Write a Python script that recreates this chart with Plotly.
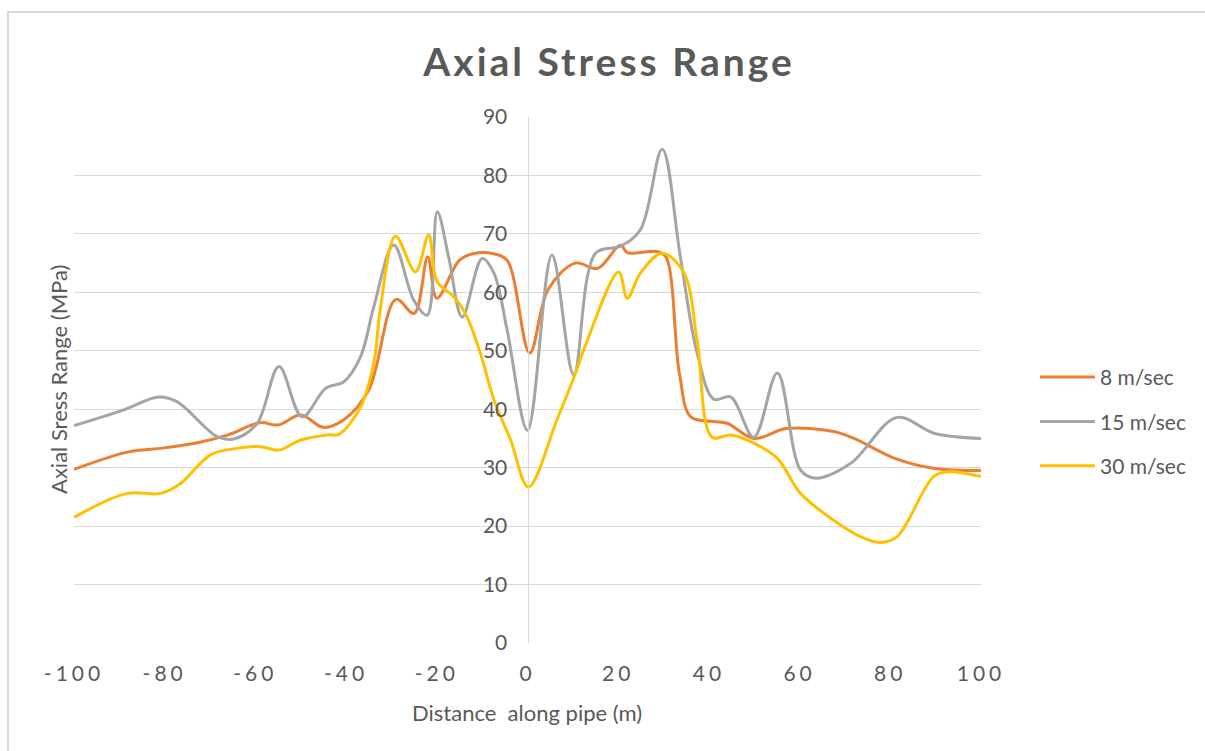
import plotly.graph_objects as go

# ---- data ----
x_8 = [-100, -88, -81, -72, -66, -59, -55, -50, -45, -40.5, -35, -29, -25, -22, -20, -15, -12, -7.5, -4.5,
       0.5, 4.5, 10.5, 15.5, 20.5, 22, 28.5, 30.5, 33.5, 36, 41, 44, 50, 57, 67.5, 72, 81, 89.5, 100]
y_8 = [29.7, 32.7, 33.3, 34.4, 35.6, 37.7, 37.3, 39.0, 36.9, 38.2, 43.3, 58.8, 56.4, 66.1, 59.0, 65.5, 66.6, 66.6, 65.5,
       49.6, 60.4, 65.0, 64.1, 68.1, 66.8, 67.0, 66.1, 46.1, 38.7, 37.9, 37.6, 35.0, 36.7, 36.2, 35.0, 31.6, 29.9, 29.5]

x_15 = [-100, -89, -81.3, -77.3, -68.4, -64.8, -59.6, -54.8, -49.7, -44.5, -40.5, -36.8, -33.9, -29.5, -25.1, -22.1,
        -19.9, -17.4, -14.4, -10, -7.4, -4.5, 0, 5.4, 10.2, 15, 20.5, 24.9, 29.7, 33.7, 37.4, 41.1, 44.8, 49.9,
        55.1, 60.2, 63.5, 71.2, 81.5, 89.6, 100]
y_15 = [37.2, 39.9, 42.1, 41.3, 35.3, 34.9, 37.6, 47.3, 38.7, 43.6, 44.7, 49.0, 57.5, 68.1, 58.7, 56.1,
        73.8, 66.1, 55.8, 65.8, 63.3, 53.6, 36.4, 66.4, 45.9, 66.7, 67.9, 70.7, 84.5, 66.1, 49.6, 41.7, 42.1, 35.2,
        46.2, 29.6, 28.2, 30.7, 38.6, 35.9, 35.0]

x_30 = [-100, -88.3, -80.9, -76.5, -69.9, -64, -58.9, -54.8, -50.1, -44.2, -41.6, -36.8, -33.9, -32.4, -29.1, -24.7,
        -21.8, -19.9, -16.3, -13.7, -10.4, -7.4, -3.7, 0.2, 6.5, 10.6, 12.8, 20.1, 22, 24.9, 29.7, 34.5, 37.4, 40.7,
        44.8, 49.9, 55.1, 60.2, 67.5, 73.4, 77.8, 81.5, 89.6, 92.9, 100]
y_30 = [21.5, 25.6, 25.6, 27.3, 32.2, 33.3, 33.6, 33.0, 34.7, 35.6, 35.7, 40.4, 47.9, 57.5, 69.6, 63.5,
        69.8, 61.8, 59.3, 56.4, 49.6, 41.6, 34.7, 26.7, 38.2, 46.2, 51.0, 63.5, 59.0, 63.3, 66.7, 63.3, 51.8, 35.2,
        35.6, 34.2, 31.6, 25.6, 21.0, 18.2, 17.2, 18.2, 28.5, 29.3, 28.5]

series_names = ["8 m/sec", "15 m/sec", "30 m/sec"]
series_colors = ["#ED7D31", "#A5A5A5", "#FFC000"]

x_ticks = [-100, -80, -60, -40, -20, 0, 20, 40, 60, 80, 100]
x_ticktext = ['<span style="letter-spacing:4px">%d</span>' % v for v in x_ticks]
y_ticks = [0, 10, 20, 30, 40, 50, 60, 70, 80, 90]

FONT = "Lato"
TXT = "#595959"
W, H = 1205, 751
L, R, T, B = 74, 224, 117, 108
pw, ph = W - L - R, H - T - B

fig = go.Figure()
for xs, ys, nm, col in zip([x_8, x_15, x_30], [y_8, y_15, y_30], series_names, series_colors):
    fig.add_trace(go.Scatter(x=xs, y=ys, name=nm, mode="lines", legendgroup=nm,
                             line=dict(color=col, width=3, shape="spline", smoothing=1.0)))

fig.update_layout(
    width=W, height=H,
    margin=dict(l=L, r=R, t=T, b=B),
    paper_bgcolor="white", plot_bgcolor="white",
    font=dict(family=FONT, color=TXT),
    title=dict(text='<b><span style="letter-spacing:3px">Axial Stress Range</span></b>',
               font=dict(size=39, color=TXT, family=FONT),
               x=609 / W, xref="container", xanchor="center",
               y=1 - 62 / H, yref="container", yanchor="middle"),
    showlegend=True,
    legend=dict(x=(1035 - L) / pw, xanchor="left", y=(643 - 378) / ph + 0.04, yanchor="top",
                font=dict(size=21, color=TXT, family=FONT), tracegroupgap=14, itemwidth=55,
                bgcolor="rgba(0,0,0,0)"),
    xaxis=dict(range=[-100, 100], tickvals=x_ticks, ticktext=x_ticktext, showgrid=False,
               zeroline=False, showline=False, ticks="", tickfont=dict(size=21, color=TXT),
               ticklabelstandoff=16, fixedrange=True),
    yaxis=dict(range=[0, 90], tickvals=y_ticks, showgrid=True, gridcolor="#D9D9D9", gridwidth=1,
               zeroline=False, showline=True, linecolor="#D9D9D9", linewidth=1,
               anchor="free", position=0.5, ticks="", tickfont=dict(size=21, color=TXT),
               ticklabelstandoff=16, fixedrange=True),
)

# axis titles
fig.add_annotation(text="Distance  along pipe (m)", xref="paper", yref="paper",
                   x=(527 - L) / pw, y=(643 - 712) / ph, showarrow=False,
                   font=dict(size=22, color=TXT, family=FONT), xanchor="center", yanchor="middle")
fig.add_annotation(text="Axial Sress Range (MPa)", xref="paper", yref="paper",
                   x=(58 - L) / pw, y=(643 - 380) / ph, showarrow=False, textangle=-90,
                   font=dict(size=22, color=TXT, family=FONT), xanchor="center", yanchor="middle")

# chart border
fig.add_shape(type="rect", xref="paper", yref="paper",
              x0=(8 - L) / pw, x1=(W + 20 - L) / pw, y0=(643 - H - 20) / ph, y1=(643 - 12) / ph,
              line=dict(color="#D9D9D9", width=2), layer="below")

fig.write_html("out.html", config={"displayModeBar": False},
               post_script="document.body.style.margin='0';")
